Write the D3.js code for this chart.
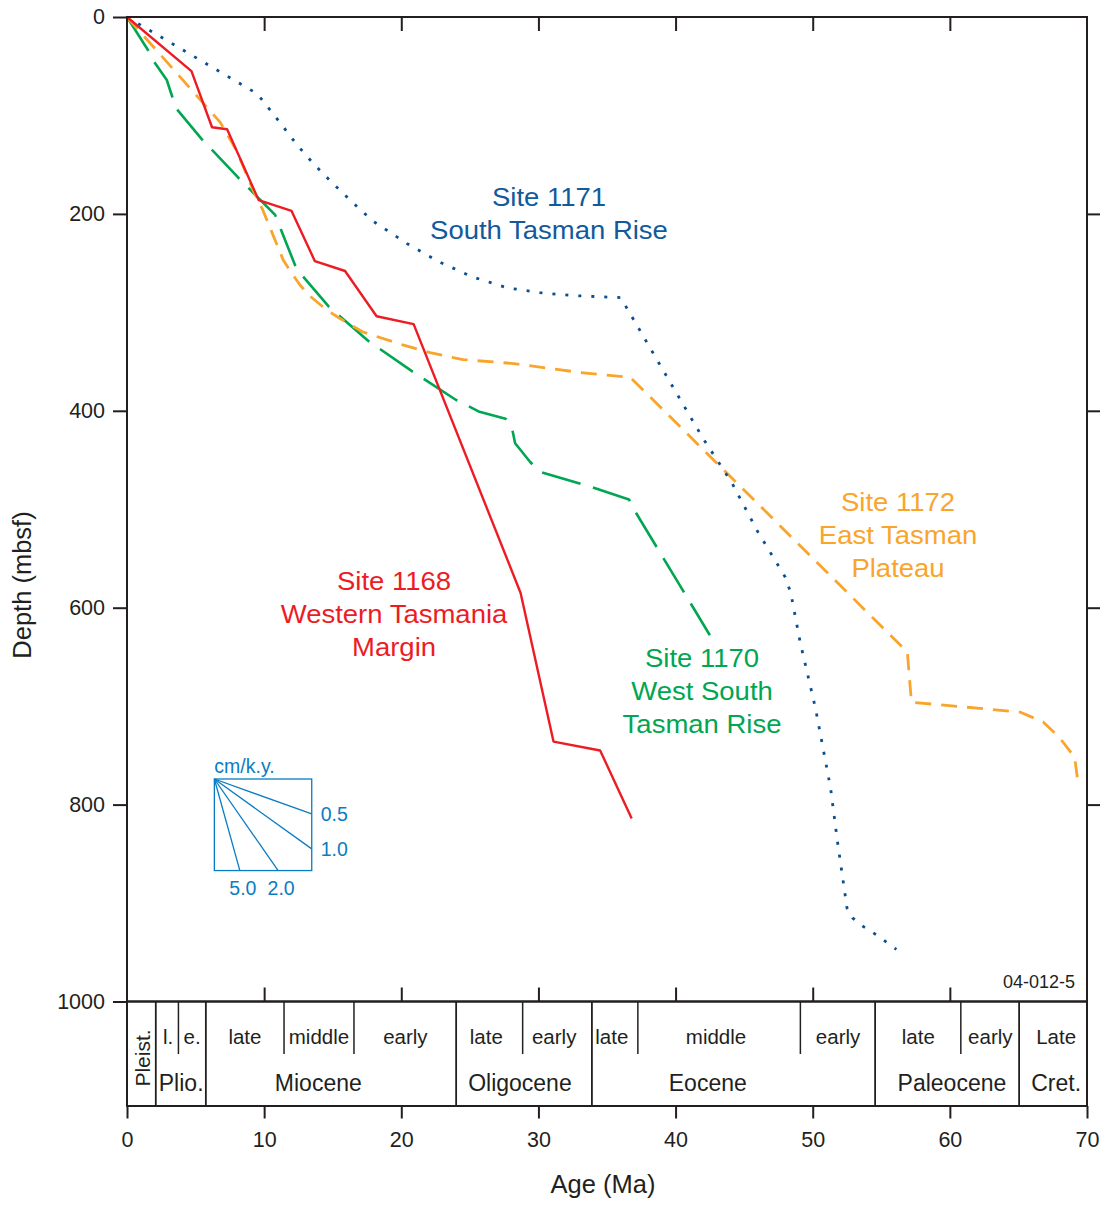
<!DOCTYPE html>
<html><head><meta charset="utf-8">
<script src="https://cdn.jsdelivr.net/npm/d3@7"></script>
<style>
body{margin:0;background:#fff}
svg{display:block}
text{font-family:"Liberation Sans",Arial,Helvetica,sans-serif}
</style>
</head><body>
<svg id="chart" width="1106" height="1205"></svg>
<script>
// ---- Data: [age (Ma), depth (mbsf)] ----
const site1168 = [[0,0],[4.7,55],[6.2,112],[7.3,114],[9.6,186],[12.0,197],[13.7,248],[15.9,258],[18.2,304],[20.9,312],[28.7,585],[31.1,736],[34.5,745],[36.8,814]];
const site1171 = [[0,0],[9.5,78],[11.2,108],[12.4,130],[13.6,149],[15.0,169],[16.5,189],[17.9,207],[20.4,230],[22.8,249],[25.2,264],[27.7,275],[30.1,280],[32.5,283],[36.0,285],[39.1,359],[42.0,428],[44.1,473],[46.0,523],[48.0,569],[48.4,585],[49.1,636],[50.2,702],[51.3,783],[51.8,837],[52.5,905],[52.9,915],[53.7,924],[54.5,931],[56.1,947]];
const site1172 = [[0,0],[6.8,107],[8.0,136],[9.2,176],[9.9,196],[11.4,247],[12.0,260],[12.6,272],[13.3,283],[14.6,298],[15.5,306],[17.2,320],[20.1,333],[22.1,341],[24.5,348],[28.2,352],[33.0,361],[36.7,366],[56.9,645],[57.2,696],[65.1,706],[66.8,716],[68.0,732],[69.1,752],[69.3,773]];
const site1170 = [[0,0],[1.55,34],[2.0,46],[2.9,64],[3.3,81],[3.6,93],[5.45,124],[8.1,163],[10.8,201],[11.2,215],[12.25,252],[12.8,263],[14.7,294],[17.6,329],[20.8,360],[24.0,389],[25.7,401],[27.6,408],[28.05,416],[28.3,433],[29.4,452],[30.1,462],[33.8,477],[36.6,490],[37.0,501],[40.3,577],[42.5,628]];

const xTicks = [0,10,20,30,40,50,60,70];
const yTicks = [0,200,400,600,800,1000];
const innerXTicks = [10,20,30,40,50,60];
const innerYTicks = [200,400,600,800];

// Time scale (ages in Ma)
const epochNames  = ["Pleist.","Plio.","Miocene","Oligocene","Eocene","Paleocene","Cret."];
const epochStarts = [0,2.1,5.75,24.0,33.9,54.55,65.05];
const epochEnds   = [2.1,5.75,24.0,33.9,54.55,65.05,70];
const epochLabelAge = [1.05,3.95,13.95,28.65,42.35,60.15,67.75];
const subNames  = ["l.","e.","late","middle","early","late","early","late","middle","early","late","early","Late"];
const subStarts = [2.1,3.75,5.75,11.45,16.55,24.0,28.85,33.9,37.25,49.1,54.55,60.8,65.05];
const subEnds   = [3.75,5.75,11.45,16.55,24.0,28.85,33.9,37.25,49.1,54.55,60.8,65.05,70];
const subLabelAge = [3.0,4.75,8.6,14.0,20.3,26.2,31.15,35.35,42.95,51.85,57.7,62.95,67.75];

// Sedimentation-rate key (cm/k.y.)
const rates = [0.5,1.0,2.0,5.0];
const rateLabels = ["0.5","1.0","2.0","5.0"];
const keyAge = [6.37,13.47];
const keyDepth = [774,867];

// Site labels
const siteNames = [
  ["Site 1171","South Tasman Rise"],
  ["Site 1172","East Tasman","Plateau"],
  ["Site 1168","Western Tasmania","Margin"],
  ["Site 1170","West South","Tasman Rise"]
];
const labelAge   = [30.77, 56.22, 19.47, 41.93];
const labelDepth = [192, 502, 582, 660];

// ---- Layout ----
const X0 = 127, X1 = 1087, Y0 = 17, Y1 = 1001.5, BOX = 1106;
const ink = "#231f20";
const colors = {s1168:"#ed1c24", s1171:"#0b4f8f", s1172:"#f9a52c", s1170:"#00a651", key:"#0a7cc1", lab1171:"#115a9b"};

const svg = d3.select("#chart");
const x = d3.scaleLinear().domain([0,70]).range([X0,X1]);
const y = d3.scaleLinear().domain([0,1000]).range([Y0,Y1]);

const line = d3.line().x(d=>x(d[0])).y(d=>y(d[1]));

// Series
const series = [
  {data:site1170, color:colors.s1170, dash:"40,13", w:2.6},
  {data:site1172, color:colors.s1172, dash:"16,10", w:2.8},
  {data:site1171, color:colors.s1171, dash:"3,10", w:2.8},
  {data:site1168, color:colors.s1168, dash:null, w:2.4}
];
series.forEach(s=>{
  svg.append("path").attr("d", line(s.data)).attr("fill","none")
    .attr("stroke", s.color).attr("stroke-width", s.w)
    .attr("stroke-dasharray", s.dash).attr("stroke-linejoin","round");
});

// Frame
svg.append("rect").attr("x",X0).attr("y",Y0).attr("width",X1-X0).attr("height",Y1-Y0)
  .attr("fill","none").attr("stroke",ink).attr("stroke-width",2);

function styleAxis(g, fs){
  g.select(".domain").remove();
  g.selectAll(".tick line").attr("stroke",ink).attr("stroke-width",2);
  g.selectAll(".tick text").attr("fill",ink).style("font-size",fs+"px")
   .style("font-family",'"Liberation Sans",Arial,Helvetica,sans-serif');
}

// Left axis
const gl = svg.append("g").attr("transform",`translate(${X0},0)`)
  .call(d3.axisLeft(y).tickValues(yTicks).tickSize(14).tickPadding(8).tickFormat(d3.format("d")));
styleAxis(gl, 21.5);
// Right ticks (outward)
const gr = svg.append("g").attr("transform",`translate(${X1},0)`)
  .call(d3.axisRight(y).tickValues(innerYTicks).tickSize(13).tickFormat(""));
styleAxis(gr, 10);
// Top ticks (inward)
const gt = svg.append("g").attr("transform",`translate(0,${Y0})`)
  .call(d3.axisTop(x).tickValues(innerXTicks).tickSize(-14).tickFormat(""));
styleAxis(gt, 10);
// Bottom-of-plot ticks (inward)
const gb = svg.append("g").attr("transform",`translate(0,${Y1})`)
  .call(d3.axisBottom(x).tickValues(innerXTicks).tickSize(-14).tickFormat(""));
styleAxis(gb, 10);

// Time scale box
svg.append("rect").attr("x",X0).attr("y",Y1).attr("width",X1-X0).attr("height",BOX-Y1)
  .attr("fill","none").attr("stroke",ink).attr("stroke-width",2);
epochEnds.slice(0,-1).forEach(a=>{
  svg.append("line").attr("x1",x(a)).attr("x2",x(a)).attr("y1",Y1).attr("y2",BOX)
    .attr("stroke",ink).attr("stroke-width",1.8);
});
const subBottom = 1054;
subStarts.forEach(a=>{
  if(epochStarts.indexOf(a) === -1){
    svg.append("line").attr("x1",x(a)).attr("x2",x(a)).attr("y1",Y1).attr("y2",subBottom)
      .attr("stroke",ink).attr("stroke-width",1.5);
  }
});
subNames.forEach((n,i)=>{
  svg.append("text").attr("x",x(subLabelAge[i])).attr("y",1044)
    .attr("text-anchor","middle").attr("fill",ink).style("font-size","20.5px").text(n);
});
epochNames.forEach((n,i)=>{
  const cx = x(epochLabelAge[i]);
  if(i===0){
    svg.append("text").attr("transform",`translate(${cx+8.5},1058) rotate(-90)`)
      .attr("text-anchor","middle").attr("fill",ink).style("font-size","21px").text(n);
  } else {
    svg.append("text").attr("x",cx).attr("y",1091).attr("text-anchor","middle")
      .attr("fill",ink).style("font-size","23px").text(n);
  }
});

// Bottom axis under the time scale
const gx = svg.append("g").attr("transform",`translate(0,${BOX})`)
  .call(d3.axisBottom(x).tickValues(xTicks).tickSize(12.5).tickPadding(13));
styleAxis(gx, 21.5);

// Axis titles
svg.append("text").attr("x",603).attr("y",1193).attr("text-anchor","middle")
  .attr("fill",ink).style("font-size","25.5px").text("Age (Ma)");
svg.append("text").attr("transform","translate(31,585) rotate(-90)").attr("text-anchor","middle")
  .attr("fill",ink).style("font-size","25.5px").text("Depth (mbsf)");

// Figure number
svg.append("text").attr("x",1075).attr("y",988).attr("text-anchor","end")
  .attr("fill",ink).style("font-size","18px").text("04-012-5");

// Site labels (slightly wide lettering, as in the original)
const labColors = [colors.lab1171, colors.s1172, colors.s1168, colors.s1170];
siteNames.forEach((lines,i)=>{
  lines.forEach((t,j)=>{
    svg.append("text")
      .attr("transform",`translate(${x(labelAge[i])},${y(labelDepth[i])+j*33}) scale(1.1,1)`)
      .attr("text-anchor","middle").attr("fill",labColors[i]).style("font-size","25px").text(t);
  });
});

// Sedimentation-rate key
const kx0 = x(keyAge[0]), kx1 = x(keyAge[1]), ky0 = y(keyDepth[0]), ky1 = y(keyDepth[1]);
svg.append("rect").attr("x",kx0).attr("y",ky0).attr("width",kx1-kx0).attr("height",ky1-ky0)
  .attr("fill","none").attr("stroke",colors.key).attr("stroke-width",1.3);
rates.forEach((r,i)=>{
  const mPerMyr = r*10;
  let endAge = keyAge[1], endDepth = keyDepth[0] + mPerMyr*(keyAge[1]-keyAge[0]);
  let side = "right";
  if(endDepth > keyDepth[1]){
    endDepth = keyDepth[1];
    endAge = keyAge[0] + (keyDepth[1]-keyDepth[0])/mPerMyr;
    side = "bottom";
  }
  svg.append("line").attr("x1",kx0).attr("y1",ky0).attr("x2",x(endAge)).attr("y2",y(endDepth))
    .attr("stroke",colors.key).attr("stroke-width",1.3);
  const t = svg.append("text").attr("fill",colors.key).style("font-size","19.5px").text(rateLabels[i]);
  if(side==="right"){
    t.attr("x",kx1+9).attr("y",y(endDepth)+7);
  } else {
    t.attr("x",x(endAge)+3).attr("y",ky1+24).attr("text-anchor","middle");
  }
});
svg.append("text").attr("x",kx0).attr("y",ky0-6).attr("fill",colors.key)
  .style("font-size","19.5px").text("cm/k.y.");
</script>
</body></html>
